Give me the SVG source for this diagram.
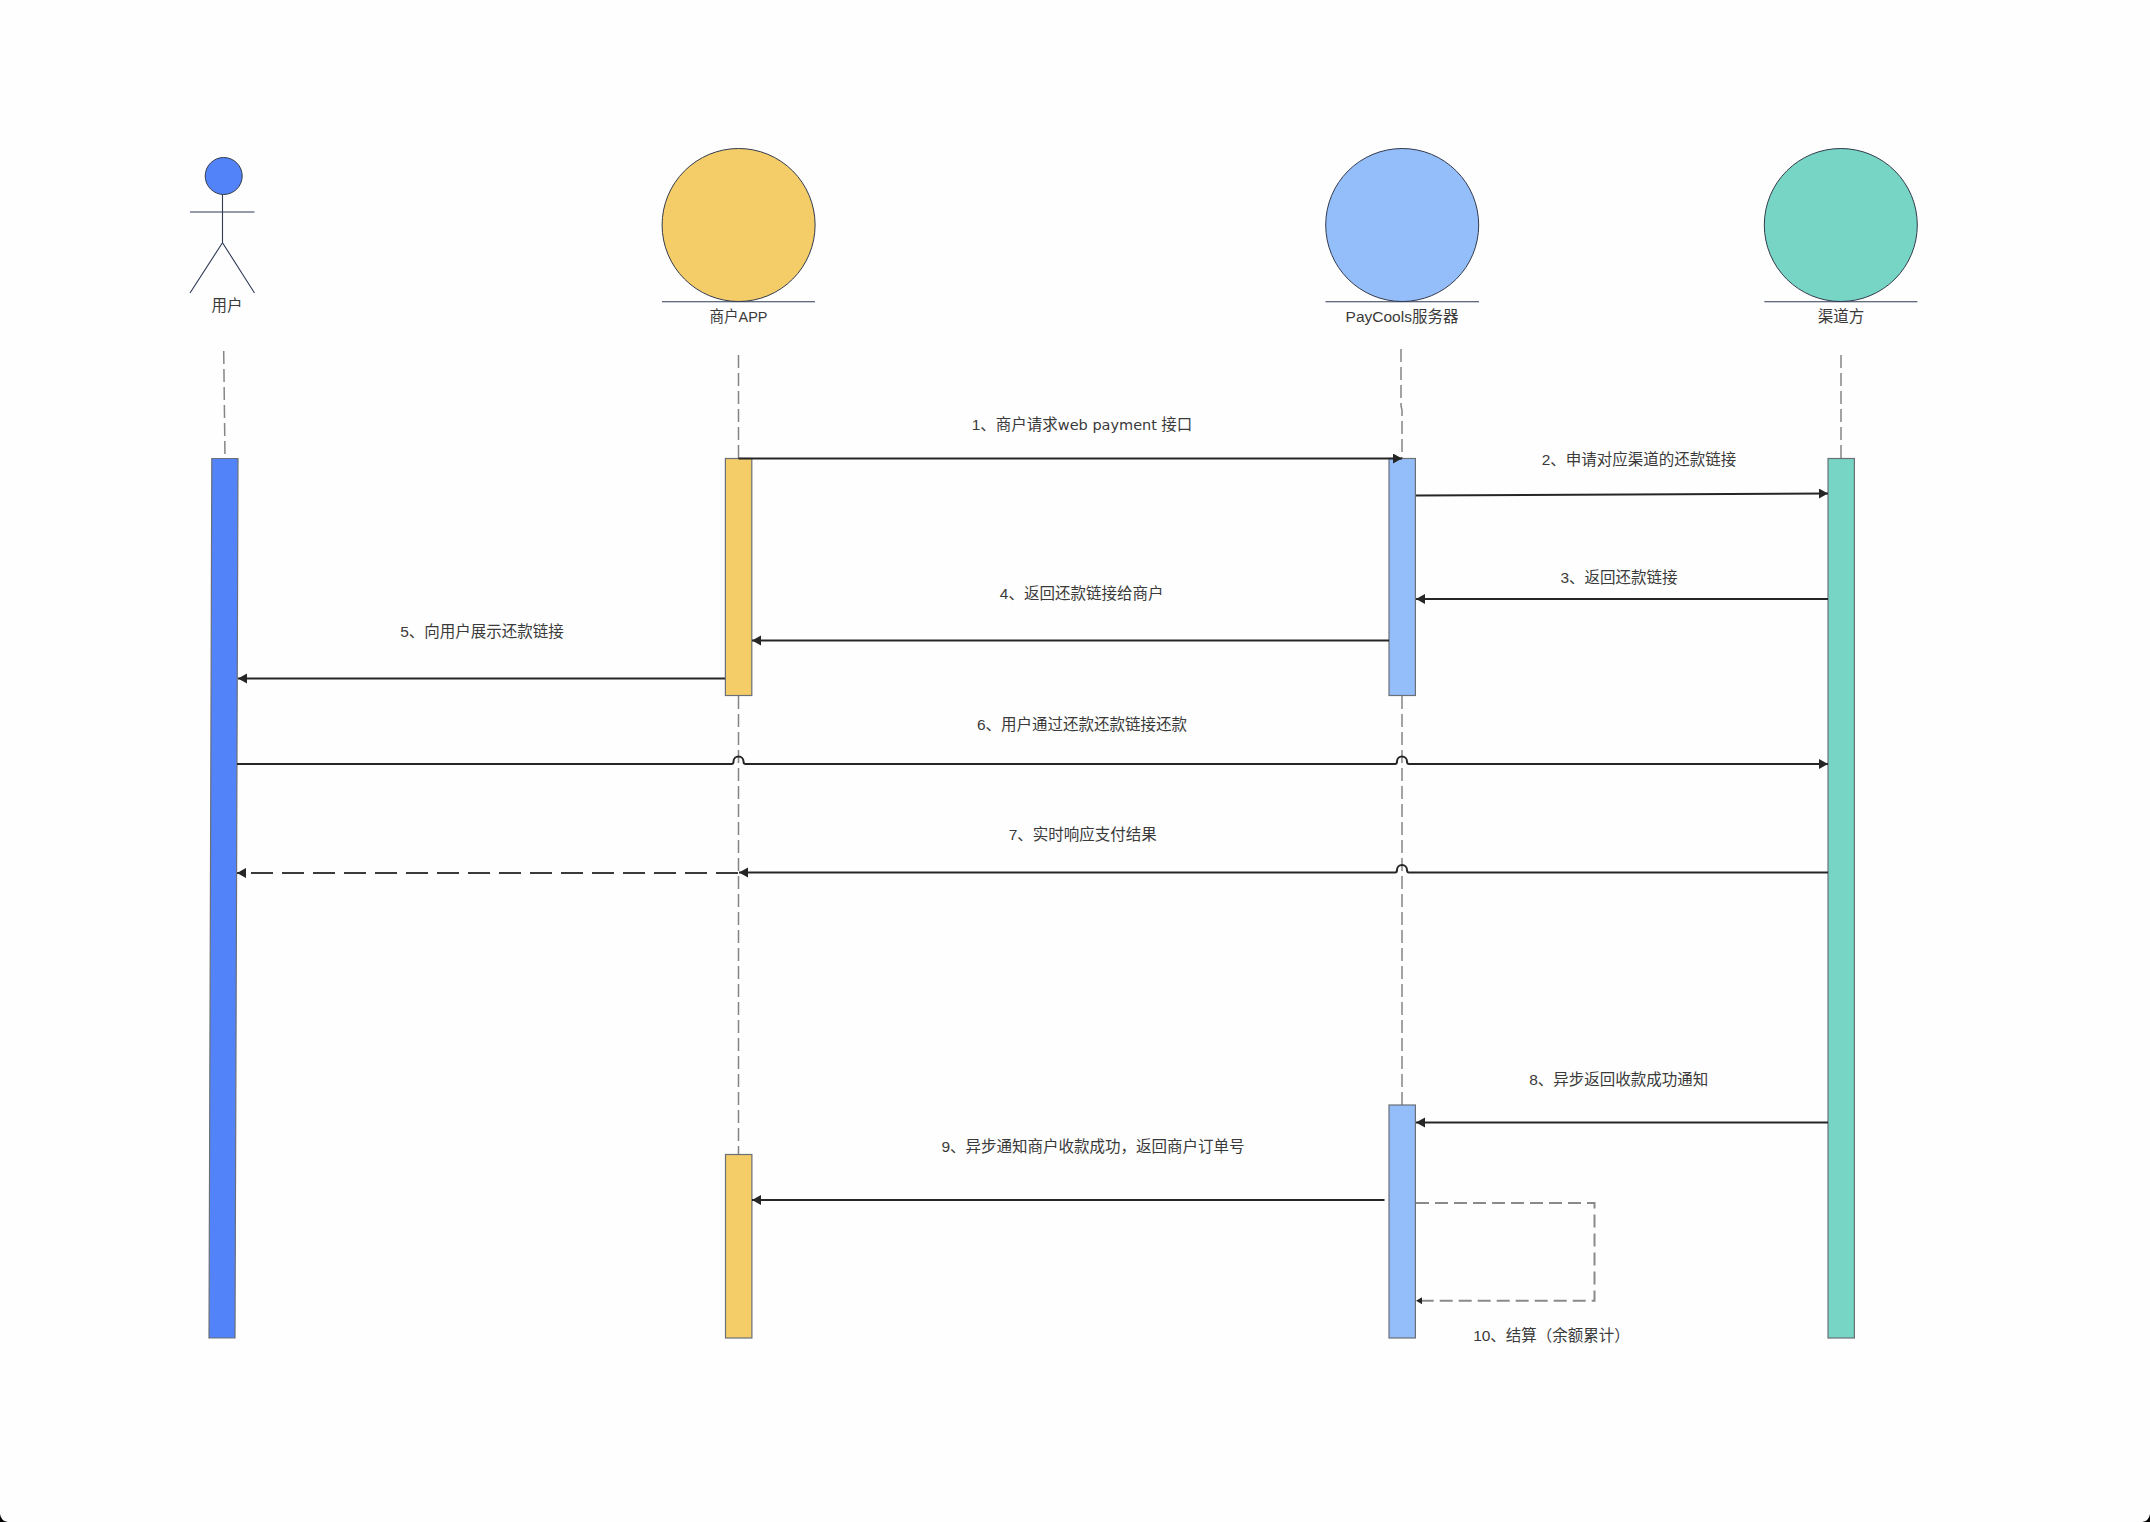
<svg xmlns="http://www.w3.org/2000/svg" width="2150" height="1522" viewBox="0 0 2150 1522">
<style>
text{font-family:"Liberation Sans","Noto Sans CJK SC",sans-serif;font-size:15.5px;fill:#3a3a3a;text-anchor:middle}
.wide{font-family:"DejaVu Sans","Noto Sans CJK SC",sans-serif;font-size:14.5px}
.body{stroke:#333b4d;stroke-width:1}
.bar{stroke:#6a6f78;stroke-width:1.2}
.head{fill:none;stroke:#2f3a55;stroke-width:1.1}
.life{fill:none;stroke:#858585;stroke-width:1.5;stroke-dasharray:13 5}
.msg{fill:none;stroke:#262626;stroke-width:2}
.dash{stroke:#3a3a3a;stroke-width:2;stroke-dasharray:22 9}
.loop{fill:none;stroke:#8a8a8a;stroke-width:2;stroke-dasharray:13 6}
.blue{fill:#5283f9}.yellow{fill:#f4cd68}.sky{fill:#94befa}.teal{fill:#76d5c4}
</style>
<defs>
<marker id="arrow" markerUnits="userSpaceOnUse" markerWidth="10" markerHeight="12" refX="9" refY="5" orient="auto"><path d="M0 0L9 5L0 10Z" fill="#262626"/></marker>
<marker id="small" markerUnits="userSpaceOnUse" markerWidth="7" markerHeight="8" refX="6" refY="3.5" orient="auto"><path d="M0 0L6 3.5L0 7Z" fill="#262626"/></marker>
</defs>
<rect width="2150" height="1522" fill="#fefefe"/>
<path d="M0 1514Q1 1521 8 1522L0 1522Z" fill="#000"/>
<path d="M2150 1514Q2149 1521 2142 1522L2150 1522Z" fill="#000"/>

<g id="lifelines">
<path class="life" d="M223.7 351L225 458"/>
<path class="life" d="M738.5 355V458"/>
<path class="life" d="M738.5 696V1154"/>
<path class="life" d="M1401 349V406L1402 410V458"/>
<path class="life" d="M1402 696V1105"/>
<path class="life" d="M1841 355V458"/>
</g>

<g id="actor-user">
<circle class="blue body" cx="223.7" cy="176" r="18.5"/>
<path class="head" d="M222.5 194.5V242.7M190 212H254.5M190 293L222.5 242.7L254.5 293"/>
<text x="227" y="311">用户</text>
</g>
<g id="actor-app">
<circle class="yellow body" cx="738.6" cy="225" r="76.5"/>
<path class="head" d="M662 301.7H815"/>
<text x="738.5" y="321.5" textLength="58" lengthAdjust="spacingAndGlyphs">商户APP</text>
</g>
<g id="actor-paycools">
<circle class="sky body" cx="1402.2" cy="225" r="76.5"/>
<path class="head" d="M1325.5 301.7H1479"/>
<text x="1402" y="321.5">PayCools服务器</text>
</g>
<g id="actor-channel">
<circle class="teal body" cx="1840.8" cy="225" r="76.5"/>
<path class="head" d="M1764.3 301.7H1917.4"/>
<text x="1841" y="321.5">渠道方</text>
</g>

<g id="bar-user"><polygon class="blue bar" points="211.8,458.5 238,458.5 235,1338 209,1338"/></g>
<g id="bar-app-1"><rect class="yellow bar" x="725.4" y="458.5" width="26.4" height="237"/></g>
<g id="bar-app-2"><rect class="yellow bar" x="725.5" y="1154.5" width="26.4" height="183.5"/></g>
<g id="bar-pay-1"><rect class="sky bar" x="1389" y="458.5" width="26.4" height="237"/></g>
<g id="bar-pay-2"><rect class="sky bar" x="1389" y="1105" width="26.4" height="233"/></g>
<g id="bar-channel"><rect class="teal bar" x="1828" y="458.5" width="26.4" height="879.5"/></g>

<g id="connectors">
<path class="msg" d="M738.5 458.5H1402" marker-end="url(#arrow)"/>
<path class="msg" d="M1416 495.5L1828 493.5" marker-end="url(#arrow)"/>
<path class="msg" d="M1828 599H1416" marker-end="url(#arrow)"/>
<path class="msg" d="M1389 640.5H752" marker-end="url(#arrow)"/>
<path class="msg" d="M725 678.5H238" marker-end="url(#arrow)"/>
<path class="msg" d="M237 764H731.5Q733.5 764 733.5 761.5A5 5 0 0 1 743.5 761.5Q743.5 764 745.5 764H1395Q1397 764 1397 761.5A5 5 0 0 1 1407 761.5Q1407 764 1409 764H1828" marker-end="url(#arrow)"/>
<path class="msg" d="M1828 872.5H1409Q1407 872.5 1407 870A5 5 0 0 0 1397 870Q1397 872.5 1395 872.5H739" marker-end="url(#arrow)"/>
<path class="msg dash" d="M738 873H237" marker-end="url(#arrow)"/>
<path class="msg" d="M1828 1122.5H1416" marker-end="url(#arrow)"/>
<path class="msg" d="M1384.5 1200H752" marker-end="url(#arrow)"/>
<path class="loop" d="M1416 1203H1594.5V1300.7H1416" marker-end="url(#small)"/>
</g>

<g id="labels">
<text x="1082" y="429.5">1、商户请求<tspan class="wide">web payment</tspan> 接口</text>
<text x="1639" y="464.5">2、申请对应渠道的还款链接</text>
<text x="1619" y="582.5">3、返回还款链接</text>
<text x="1081.6" y="599">4、返回还款链接给商户</text>
<text x="482" y="637">5、向用户展示还款链接</text>
<text x="1082" y="729.5">6、用户通过还款还款链接还款</text>
<text x="1082.7" y="839.8">7、实时响应支付结果</text>
<text x="1618.7" y="1085">8、异步返回收款成功通知</text>
<text x="1093" y="1152">9、异步通知商户收款成功，返回商户订单号</text>
<text x="1551.5" y="1340.8">10、结算（余额累计）</text>
</g>
</svg>
